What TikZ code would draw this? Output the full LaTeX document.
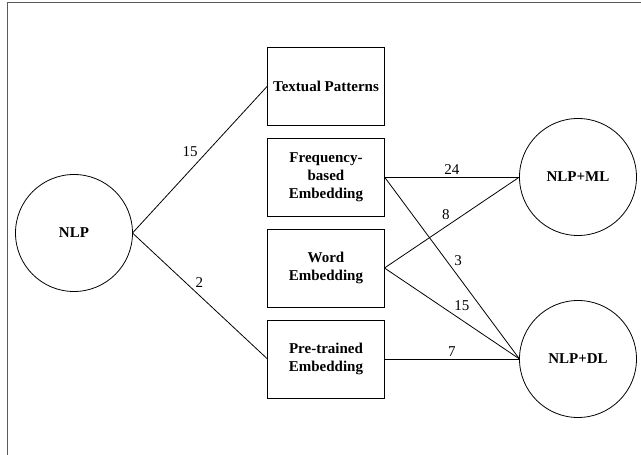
\documentclass[tikz,border=0pt]{standalone}
\usepackage{fontspec}
\setmainfont{Liberation Serif}
\usepackage{tikz}
\usetikzlibrary{positioning}
\definecolor{framegray}{HTML}{5A5A5A}
\newcommand{\diagfont}{\fontsize{15}{18}\selectfont}
\tikzset{node distance=13pt, auto, every text node part/.style={align=center}}
\tikzstyle{block} = [draw=black, fill=white, minimum width=117pt, minimum height=78pt, inner sep=0pt, outer sep=0pt, line width=0.8pt, font=\diagfont\bfseries]
\tikzstyle{topic} = [draw=black, circle, minimum size=117pt, inner sep=0pt, outer sep=0pt, line width=0.8pt, font=\diagfont\bfseries]
\tikzstyle{ln} = [draw, line width=0.8pt, every node/.style={font=\diagfont, inner sep=2pt}]

\begin{document}
\begin{tikzpicture}[x=1pt, y=1pt]
  \useasboundingbox (-326,-278) rectangle (315,177);
  % open frame round the figure
  \draw[framegray, line width=1pt] (-318,-280) -- (-318,174) -- (320,174);

  \node[block] (freq) {Frequency-\\based\\Embedding};
  \node[block, above=of freq] (textual) {Textual Patterns};
  \node[block, below=of freq] (word) {Word\\Embedding};
  \node[block, below=of word] (pretrained) {Pre-trained\\Embedding};
  \node[topic, left=135pt of word, yshift=35pt] (nlp) {NLP};
  \node[topic, right=135pt of freq] (nlpml) {NLP+ML};
  \node[topic, right=135pt of pretrained] (nlpdl) {NLP+DL};

  \path[ln]
    (nlp.east) edge node {15} (textual.west)
    (nlp.east) edge node[pos=0.45] {2} (pretrained.west)
    (freq.east) edge node {24} (nlpml.west)
    (freq.east) edge node {3} (nlpdl.west)
    (word.east) edge node {8} (nlpml.west)
    (word.east) edge node {15} (nlpdl.west)
    (pretrained.east) edge node {7} (nlpdl.west);
\end{tikzpicture}
\end{document}
